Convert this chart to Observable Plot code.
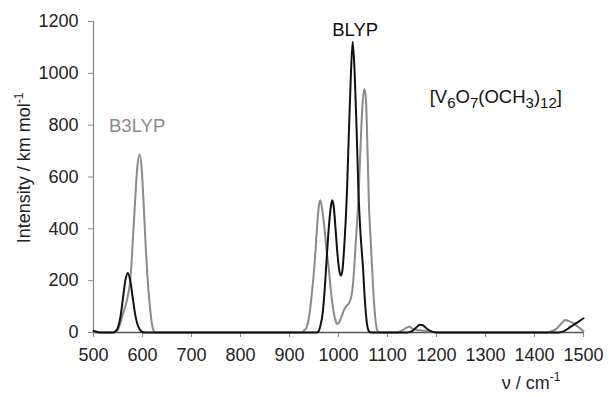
<!DOCTYPE html>
<html><head><meta charset="utf-8">
<script src="https://cdn.jsdelivr.net/npm/d3@7"></script>
<script src="https://cdn.jsdelivr.net/npm/@observablehq/plot@0.6"></script>
<style>
html,body{margin:0;padding:0;background:#fff;}
</style>
</head><body><div id="chart"></div>
<script>
// ---- data ----
const seriesNames = ["B3LYP", "BLYP"];

const blypX = [500, 505, 512, 540, 545, 550, 555, 560, 565, 570, 575, 580, 585, 590, 595, 600, 605,
  955, 959, 963, 968, 972, 976, 980, 984, 987, 990, 994, 998, 1002, 1005, 1008, 1012, 1017, 1021, 1025, 1029,
  1033, 1037, 1041, 1045, 1050, 1054, 1058, 1062, 1066,
  1140, 1150, 1158, 1166, 1172, 1180, 1188, 1200,
  1450, 1460, 1470, 1480, 1490, 1500];
const blypY = [6, 4, 0, 0, 5, 20, 60, 130, 200, 230, 200, 135, 70, 30, 10, 2, 0,
  0, 4, 25, 80, 170, 290, 400, 480, 510, 490, 400, 300, 235, 220, 240, 340, 529, 760, 980, 1122,
  1000, 780, 529, 380, 250, 120, 35, 5, 0,
  0, 5, 18, 30, 28, 15, 5, 0,
  0, 5, 17, 30, 42, 55];

const b3lypX = [500, 540, 548, 553, 558, 563, 568, 572, 575, 578, 581, 585, 589, 594, 598, 602, 606, 610, 614, 618, 622, 627,
  925, 930, 935, 940, 945, 951, 956, 960, 963, 967, 972, 976, 980, 985, 990, 994, 997, 1001, 1006, 1012, 1017, 1021,
  1025, 1028, 1031, 1035, 1038, 1041, 1045, 1049, 1053, 1056, 1059, 1062, 1065, 1068, 1072, 1076, 1080, 1085,
  1120, 1130, 1138, 1145, 1152, 1160, 1170, 1180, 1195, 1210,
  1425, 1435, 1445, 1455, 1463, 1470, 1480, 1490, 1500];
const b3lypY = [0, 0, 5, 25, 58, 90, 123, 160, 200, 280, 380, 510, 630, 687, 640, 510, 350, 220, 123, 50, 10, 0,
  0, 8, 20, 60, 140, 260, 400, 490, 510, 470, 390, 310, 250, 150, 80, 45, 33, 38, 60, 90, 105, 112,
  130, 160, 220, 340, 430, 529, 720, 880, 940, 900, 720, 500, 380, 270, 130, 40, 5, 0,
  0, 8, 18, 22, 14, 10, 8, 5, 2, 0,
  0, 5, 15, 35, 48, 44, 35, 20, 5];

const xTicks = [500, 600, 700, 800, 900, 1000, 1100, 1200, 1300, 1400, 1500];
const yTicks = [0, 200, 400, 600, 800, 1000, 1200];

const annotationText = ["B3LYP", "BLYP", "[V_6O_7(OCH_3)_{12}]"];
const annotationKey = ["B3LYP", "BLYP", "formula"];
const annotationX = [589, 1034, 1321];
const annotationY = [796, 1167, 908];

const xLabel = "ν / cm^{-1}";
const yLabel = "Intensity / km mol^{-1}";

// ---- build tables ----
const lineData = [
  ...b3lypX.map((x, i) => ({series: "B3LYP", x, y: b3lypY[i]})),
  ...blypX.map((x, i) => ({series: "BLYP", x, y: blypY[i]}))
];
const annotations = annotationText.map((t, i) => ({text: t, key: annotationKey[i], x: annotationX[i], y: annotationY[i]}));

const colorOf = {"B3LYP": "#8a8a8a", "BLYP": "#111111", "formula": "#111111"};
const FONT = "'Liberation Sans', Arial, Helvetica, sans-serif";

const plot = Plot.plot({
  width: 609,
  height: 397,
  marginLeft: 93,
  marginRight: 26,
  marginTop: 21,
  marginBottom: 65,
  style: {fontFamily: FONT, fontSize: "18px", color: "#222", background: "#fff", overflow: "visible"},
  x: {domain: [500, 1500]},
  y: {domain: [0, 1200]},
  marks: [
    Plot.axisY({ticks: yTicks, tickSize: 5, tickPadding: 10, label: null, stroke: "#8a8a8a", fill: "#222", fontSize: 18, tickFormat: d => String(d)}),
    Plot.axisX({ticks: xTicks, tickSize: 5, tickPadding: 11, label: null, stroke: "#8a8a8a", fill: "#222", fontSize: 18, tickFormat: d => String(d)}),
    Plot.ruleX([500], {stroke: "#8a8a8a", strokeWidth: 1.3}),
    Plot.ruleY([0], {stroke: "#555", strokeWidth: 1.3}),
    Plot.line(lineData.filter(d => d.series === "B3LYP"), {x: "x", y: "y", stroke: colorOf["B3LYP"], strokeWidth: 2, curve: "monotone-x"}),
    Plot.line(lineData.filter(d => d.series === "BLYP"), {x: "x", y: "y", stroke: colorOf["BLYP"], strokeWidth: 2, curve: "monotone-x"}),
    Plot.text(annotations, {x: "x", y: "y", text: "text", fill: d => colorOf[d.key], fontSize: 18.5, textAnchor: "middle"}),
    Plot.text([xLabel], {frameAnchor: "bottom-right", text: d => d, textAnchor: "end", lineAnchor: "bottom", dx: -23, dy: 56, fill: "#222", fontSize: 18}),
    Plot.text([yLabel], {frameAnchor: "left", text: d => d, rotate: -90, textAnchor: "middle", dx: -69, dy: -9, fill: "#222", fontSize: 18})
  ]
});

// rich text: _x / _{..} subscripts, ^x / ^{..} superscripts
function richify(el, s) {
  const fs = 18;
  el.textContent = "";
  const re = /([_^])(\{([^}]*)\}|(.))/g;
  let last = 0, m, shift = 0;
  const add = (txt, kind) => {
    const ts = document.createElementNS("http://www.w3.org/2000/svg", "tspan");
    const target = kind === "_" ? 5 : kind === "^" ? -0.42 * fs : 0;
    ts.setAttribute("dy", String(target - shift));
    shift = target;
    if (kind === "_") ts.setAttribute("font-size", "15");
    if (kind === "^") ts.setAttribute("font-size", "12");
    ts.textContent = txt;
    el.appendChild(ts);
  };
  while ((m = re.exec(s))) {
    if (m.index > last) add(s.slice(last, m.index), null);
    add(m[3] !== undefined ? m[3] : m[4], m[1]);
    last = re.lastIndex;
  }
  if (last < s.length) add(s.slice(last), null);
}
d3.select(plot).selectAll("text").each(function () {
  const t = this.textContent;
  if (/[_^]/.test(t)) richify(this, t);
});

document.getElementById("chart").appendChild(plot);
</script>
</body></html>
